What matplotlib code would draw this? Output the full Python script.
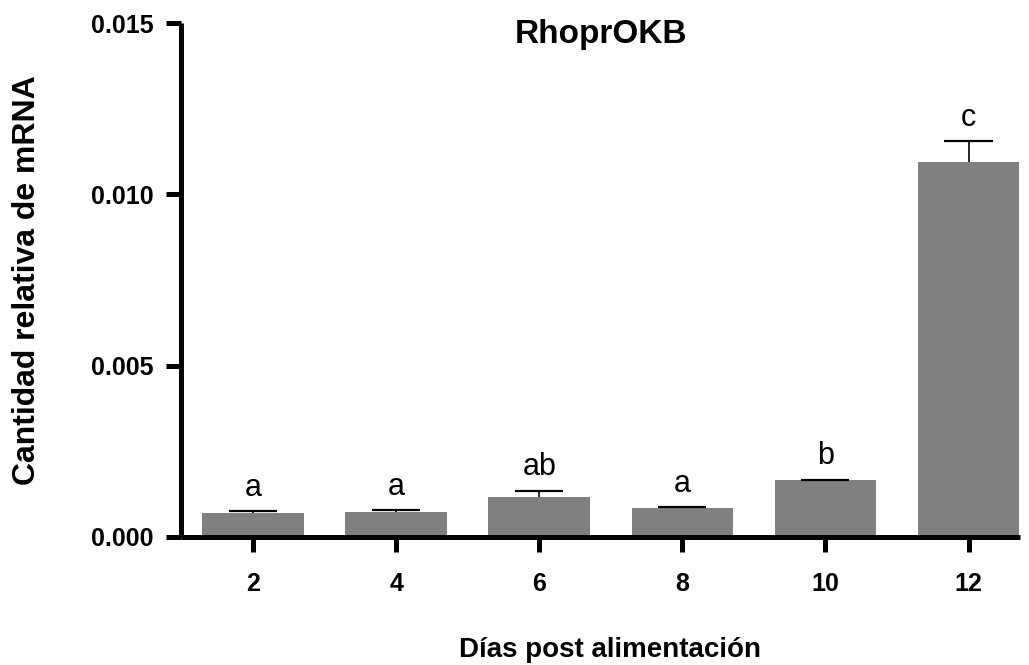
import matplotlib
matplotlib.use("Agg")
import matplotlib.pyplot as plt
import numpy as np

days = ["2", "4", "6", "8", "10", "12"]
means = [0.00071, 0.00073, 0.00118, 0.00086, 0.00165, 0.01093]
sem = [0.00004, 0.00005, 0.00017, 0.00002, 0.00002, 0.00063]
letters = ["a", "a", "ab", "a", "b", "c"]
yticks = [0.000, 0.005, 0.010, 0.015]
ytick_labels = ["0.000", "0.005", "0.010", "0.015"]

plt.rcParams['font.family'] = ['Liberation Sans', 'DejaVu Sans']

fig = plt.figure(figsize=(10.29, 6.65), dpi=100)
ax = fig.add_axes([0.1759, 0.1925, 0.8154, 0.7729])

x = np.arange(len(days))
means_a = np.array(means)
sem_a = np.array(sem)
ax.bar(x, means_a, width=0.71, color="#808080", edgecolor="none", zorder=2)
# upper-only error bars with cap
ax.vlines(x, means_a, means_a + sem_a, colors="black", linewidth=1.2, zorder=3)
ax.hlines(means_a + sem_a, x - 0.168, x + 0.168, colors="black", linewidth=1.6, zorder=3)

for xi, top, lab in zip(x, means_a + sem_a, letters):
    ax.annotate(lab, (xi, top), xytext=(0, 11), textcoords="offset points",
                ha="center", va="baseline", fontsize=22, color="black")

ax.set_xlim(-0.503, 5.36)
ax.set_ylim(0, 0.015)
ax.set_xticks(x)
ax.set_xticklabels(days)
ax.set_yticks(yticks)
ax.set_yticklabels(ytick_labels)

for sp in ["top", "right"]:
    ax.spines[sp].set_visible(False)
for sp in ["left", "bottom"]:
    ax.spines[sp].set_linewidth(3.6)
    ax.spines[sp].set_capstyle("butt")

ax.tick_params(axis="both", which="major", length=11, width=3.6, labelsize=18, color="black")
ax.tick_params(axis="x", pad=14)
ax.tick_params(axis="y", pad=9)
for lbl in ax.get_xticklabels() + ax.get_yticklabels():
    lbl.set_fontweight("bold")

ax.set_title("RhoprOKB", fontsize=24, fontweight="bold", y=0.9776, va="center", pad=0)
ax.set_ylabel("Cantidad relativa de mRNA", fontsize=23, fontweight="bold", va="center")
ax.yaxis.set_label_coords(-0.1836, 0.5)
ax.set_xlabel("Días post alimentación", fontsize=20, fontweight="bold", va="center")
ax.xaxis.set_label_coords(0.511, -0.2198)

fig.savefig("out.png", dpi=100)
